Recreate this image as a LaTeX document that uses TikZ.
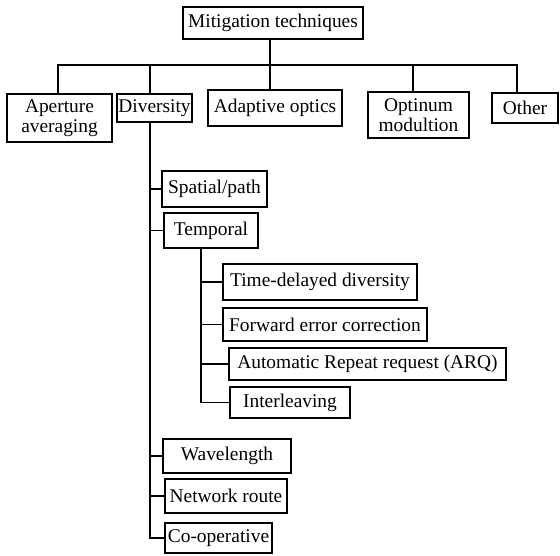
\documentclass[tikz,border=0pt]{standalone}
\usepackage{fontspec}
\setmainfont{Liberation Serif}
\begin{document}
\begin{tikzpicture}[x=1pt,y=-1pt,
  box/.style={draw,line width=1.6pt,inner sep=0pt,align=center,
    font=\fontsize{19.4}{20.5}\selectfont},
  link/.style={line width=1.6pt}]
\useasboundingbox (0,0) rectangle (560,556);
\node[box,minimum width=180pt,minimum height=32pt] (top) at (273,23) {Mitigation techniques};
\node[box,minimum width=105pt,minimum height=48pt] (aper) at (59.5,118) {Aperture\\averaging};
\node[box,minimum width=75pt,minimum height=28pt] (div) at (154.5,108) {Diversity};
\node[box,minimum width=134pt,minimum height=36pt] (adapt) at (275,108) {Adaptive optics};
\node[box,minimum width=101pt,minimum height=46pt] (optim) at (418.5,115) {Optinum\\modultion};
\node[box,minimum width=66pt,minimum height=30pt] (other) at (525,108) {Other};
\node[box,minimum width=105pt,minimum height=36pt] (spatial) at (214.5,189) {Spatial/path};
\node[box,minimum width=94pt,minimum height=35pt] (temporal) at (211,230.5) {Temporal};
\node[box,minimum width=194pt,minimum height=36pt] (time) at (320,282) {Time-delayed diversity};
\node[box,minimum width=204pt,minimum height=33pt] (fec) at (325,324.5) {Forward error correction};
\node[box,minimum width=277pt,minimum height=32pt] (arq) at (367.5,364) {Automatic Repeat request (ARQ)};
\node[box,minimum width=120pt,minimum height=31pt] (inter) at (290,402.5) {Interleaving};
\node[box,minimum width=128pt,minimum height=34pt] (wave) at (227,456) {Wavelength};
\node[box,minimum width=122pt,minimum height=34pt] (net) at (226,496) {Network route};
\node[box,minimum width=107pt,minimum height=30pt] (coop) at (218.5,538) {Co-operative};
% top bus
\coordinate (bus) at (270,65);
\coordinate (ax) at (58,0);
\coordinate (dx) at (150,0);
\coordinate (ox) at (413,0);
\coordinate (rx) at (517,0);
\coordinate (tx) at (201,0);
\draw[link] (top.south -| bus) -- (bus);
\draw[link] (aper.north -| ax) -- (ax |- bus) -- (rx |- bus) -- (other.north -| rx);
\draw[link] (div.north -| dx) -- (dx |- bus);
\draw[link] (adapt.north -| bus) -- (bus);
\draw[link] (optim.north -| ox) -- (ox |- bus);
% diversity trunk
\draw[link] (div.south -| dx) -- (dx |- coop.west) -- (coop.west);
\draw[link] (dx |- spatial.west) -- (spatial.west);
\draw[link] (dx |- temporal.west) -- (temporal.west);
\draw[link] (dx |- wave.west) -- (wave.west);
\draw[link] (dx |- net.west) -- (net.west);
% temporal trunk
\draw[link] (temporal.south -| tx) -- (tx |- inter.west) -- (inter.west);
\draw[link] (tx |- time.west) -- (time.west);
\draw[link] (tx |- fec.west) -- (fec.west);
\draw[link] (tx |- arq.west) -- (arq.west);
\end{tikzpicture}
\end{document}
